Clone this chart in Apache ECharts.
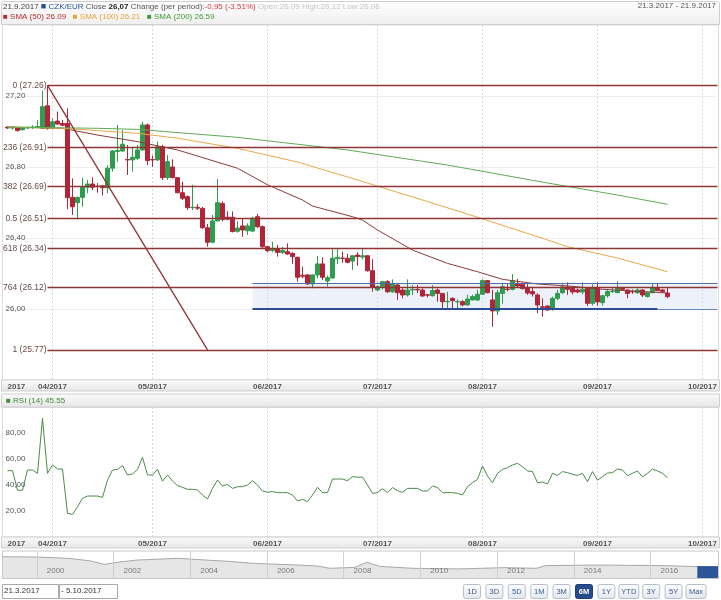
<!DOCTYPE html>
<html><head><meta charset="utf-8">
<script src="https://cdn.jsdelivr.net/npm/echarts@6/dist/echarts.min.js"></script>
<style>html,body{margin:0;padding:0;background:#fff}#c{width:721px;height:600px}</style>
</head><body><div id="c"></div>
<script>
// ---- trading days (categories) ----
const monthDays = [
  [3, [21,22,23,24,27,28,29,30,31]],
  [4, [3,4,5,6,7,10,11,12,13,14,17,18,19,20,21,24,25,26,27,28]],
  [5, [1,2,3,4,5,8,9,10,11,12,15,16,17,18,19,22,23,24,25,26,29,30,31]],
  [6, [1,2,5,6,7,8,9,12,13,14,15,16,19,20,21,22,23,26,27,28,29,30]],
  [7, [3,4,5,6,7,10,11,12,13,14,17,18,19,20,21,24,25,26,27,28,31]],
  [8, [1,2,3,4,7,8,9,10,11,14,15,16,17,18,21,22,23,24,25,28,29,30,31]],
  [9, [1,4,5,6,7,8,11,12,13,14,15,18,19,20,21,22,25,26,27,28,29]],
  [10,[2,3,4,5]]
];
const categories = [];
const monthStartIdx = {};
monthDays.forEach(([m, days]) => {
  monthStartIdx[categories.length] = (m < 10 ? '0' + m : '' + m) + '/2017';
  days.forEach(d => categories.push(d + '.' + m + '.2017'));
});
const firstLabel = '2017';

// ---- OHLC [open, high, low, close] ----
const ohlc = [
[27.025,27.03,27.015,27.02],[27.02,27.03,27.01,27.025],[27.02,27.025,27.0,27.005],[27.01,27.025,27.005,27.02],
[27.02,27.03,27.015,27.022],[27.022,27.035,27.015,27.025],[27.025,27.065,27.02,27.028],[27.018,27.23,27.015,27.14],
[27.145,27.26,27.01,27.018],[27.021,27.074,27.013,27.055],[27.059,27.112,27.037,27.042],[27.045,27.065,27.03,27.035],
[27.046,27.131,26.562,26.627],[26.629,26.736,26.53,26.576],[26.599,26.633,26.505,26.629],[26.629,26.74,26.576,26.684],
[26.686,26.727,26.652,26.704],[26.704,26.742,26.67,26.686],[26.692,26.71,26.655,26.69],[26.694,26.70,26.64,26.683],
[26.683,26.811,26.652,26.793],[26.793,26.896,26.774,26.89],[26.887,27.037,26.83,26.893],[26.89,27.008,26.886,26.928],
[26.842,26.924,26.755,26.84],[26.84,26.914,26.774,26.855],[26.849,26.924,26.84,26.896],[26.896,27.055,26.893,27.037],
[27.037,27.045,26.811,26.836],[26.842,26.865,26.80,26.84],[26.84,26.943,26.834,26.914],[26.914,26.925,26.727,26.74],
[26.74,26.868,26.727,26.83],[26.80,26.843,26.736,26.74],[26.74,26.742,26.652,26.655],[26.655,26.717,26.614,26.624],
[26.633,26.64,26.558,26.571],[26.571,26.70,26.558,26.573],[26.573,26.59,26.558,26.568],[26.567,26.575,26.451,26.458],
[26.458,26.479,26.351,26.376],[26.376,26.53,26.37,26.496],[26.496,26.732,26.493,26.599],[26.595,26.606,26.493,26.505],
[26.517,26.55,26.50,26.506],[26.517,26.55,26.432,26.436],[26.438,26.495,26.43,26.456],[26.468,26.511,26.407,26.445],
[26.441,26.483,26.417,26.468],[26.439,26.52,26.433,26.511],[26.52,26.535,26.455,26.464],[26.464,26.47,26.342,26.351],
[26.351,26.355,26.32,26.328],[26.33,26.379,26.32,26.338],[26.34,26.361,26.295,26.319],[26.319,26.35,26.31,26.33],
[26.323,26.37,26.305,26.31],[26.313,26.32,26.254,26.295],[26.291,26.295,26.154,26.179],[26.19,26.238,26.173,26.185],
[26.192,26.196,26.135,26.141],[26.141,26.196,26.117,26.192],[26.192,26.299,26.173,26.254],[26.254,26.291,26.163,26.179],
[26.158,26.19,26.126,26.176],[26.175,26.342,26.17,26.286],[26.283,26.342,26.254,26.291],[26.287,26.323,26.26,26.285],
[26.286,26.31,26.257,26.263],[26.27,26.304,26.22,26.30],[26.304,26.32,26.244,26.295],[26.293,26.342,26.28,26.30],
[26.30,26.304,26.21,26.216],[26.216,26.28,26.097,26.122],[26.107,26.135,26.10,26.126],[26.126,26.158,26.11,26.154],
[26.154,26.163,26.09,26.097],[26.097,26.167,26.092,26.141],[26.135,26.144,26.051,26.092],[26.107,26.116,26.06,26.079],
[26.079,26.167,26.07,26.107],[26.107,26.135,26.079,26.11],[26.11,26.135,26.09,26.108],[26.107,26.116,26.07,26.073],
[26.08,26.085,26.065,26.078],[26.075,26.135,26.07,26.104],[26.107,26.116,26.041,26.088],[26.088,26.09,25.998,26.041],
[26.041,26.097,26.004,26.043],[26.06,26.065,26.004,26.047],[26.04,26.055,26.004,26.042],[26.041,26.05,26.015,26.023],
[26.023,26.08,26.017,26.056],[26.051,26.08,26.05,26.07],[26.051,26.107,26.045,26.083],[26.083,26.167,26.08,26.16],
[26.16,26.163,26.088,26.092],[26.051,26.107,25.90,25.989],[25.989,26.107,25.966,26.092],[26.088,26.145,26.03,26.126],
[26.112,26.14,26.10,26.11],[26.111,26.197,26.105,26.16],[26.145,26.17,26.12,26.13],[26.14,26.15,26.11,26.115],
[26.12,26.14,26.08,26.09],[26.098,26.125,26.07,26.085],[26.079,26.088,25.976,26.023],[26.012,26.06,25.957,26.01],
[26.017,26.02,25.99,25.994],[26.0,26.07,25.99,26.06],[26.06,26.107,26.05,26.088],[26.092,26.14,26.085,26.124],
[26.124,26.15,26.08,26.111],[26.115,26.126,26.083,26.096],[26.107,26.115,26.09,26.096],[26.096,26.15,26.083,26.111],
[26.115,26.12,26.017,26.032],[26.032,26.139,26.02,26.115],[26.115,26.15,26.02,26.04],[26.036,26.08,26.02,26.075],
[26.075,26.107,26.064,26.098],[26.098,26.118,26.09,26.1],[26.092,26.155,26.09,26.118],[26.118,26.125,26.105,26.111],
[26.107,26.11,26.06,26.088],[26.098,26.11,26.085,26.097],[26.092,26.115,26.085,26.107],[26.107,26.112,26.067,26.079],
[26.07,26.096,26.065,26.092],[26.092,26.145,26.088,26.118],[26.118,26.145,26.1,26.104],[26.107,26.112,26.09,26.098],
[26.09,26.12,26.06,26.07]
];

// ---- moving averages: [category index, value] ----
const sma50 = [[0,27.025],[11,27.018],[18,26.98],[26,26.943],[34,26.896],[46,26.793],[52,26.70],[59,26.614],[61,26.58],
  [69,26.52],[71,26.501],[74,26.445],[81,26.332],[88,26.257],[94,26.21],[99,26.167],[106,26.141],[112,26.13],[119,26.111],[132,26.09]];
const sma100 = [[0,27.025],[11,27.018],[18,27.005],[26,26.99],[34,26.962],[46,26.905],[58,26.828],[70,26.727],[83,26.614],
  [94,26.517],[108,26.389],[112,26.351],[122,26.287],[132,26.21]];
const sma200 = [[0,27.025],[18,27.018],[26,27.012],[46,26.967],[68,26.896],[88,26.811],[108,26.71],[122,26.642],[132,26.59]];

// ---- RSI (14) ----
const rsi = [
51,51,36,36,51.5,51.5,49,91.3,49,55.4,
52.3,52.3,18.2,17.4,23.3,29.7,31.5,31.5,31.5,30.5,
43.8,51.5,52,54.9,47.7,48.5,52,61.3,47.7,47.7,
52,43,47.7,43,39.5,38.2,36.7,36.7,36.2,32.3,
29.2,37.4,43.8,39.2,40.5,37.4,38.7,38.7,40,43.3,
40,35.4,34.4,34.9,34.1,34.1,34.1,32.3,27.7,29,
27.2,32.3,38.2,34.1,34.1,44.6,44.6,44.6,43.3,46.4,
46,46.1,40,33.6,34.1,37.2,34.1,38,35.6,34.4,
37.4,37.4,37.4,35.4,35.4,39.2,38,34.1,34.1,34.1,
33.6,32.3,38.7,41.8,44.4,54.6,46.9,41.8,49,52,
53.3,55.4,56.7,54.1,50.8,50.3,41.8,42.3,40.8,49,
47.4,50.3,49.5,48.2,47.4,49,42.6,50.3,43.8,46.4,
49.2,49.5,52.3,51.5,47.2,49,50.8,46.2,49,52.3,
50.8,49,45.55
];

// ---- Fibonacci retracement & drawings ----
const fibNames = ['0','236','382','0.5','618','764','1'];
const fibValues = [27.26,26.91,26.69,26.51,26.34,26.12,25.77];
const fibStartIdx = 8, lastIdx = categories.length - 1;
const trendLine = [[8,27.26],[40,25.77]];
const channel = {startIdx:49, top:26.145, bottom:26.00, boldEndIdx:130};

// ---- navigator (long history) [decimal year, value] ----
const navData = [[1999.12,36.5],[2000.0,36.2],[2000.83,34.8],[2001.4,32],[2001.76,28.3],[2002.2,31],[2002.62,32.9],
  [2003.7,34.8],[2004.4,32.9],[2005.0,31.5],[2005.62,29.4],[2006.81,27.5],[2007.3,26.5],[2007.64,24],[2008.3,25],
  [2008.6,30.5],[2008.96,26],[2009.79,24],[2010.98,23.3],[2011.6,24],[2012.18,24.7],[2013.03,24],[2013.26,26.9],
  [2014.59,27.5],[2015.5,27.2],[2016.37,26.9],[2017.22,25.8]];
const navSel = [[2017.22,25.8],[2017.5,25.7],[2017.76,25.7]];
const navYears = [2000,2002,2004,2006,2008,2010,2012,2014,2016];

const buttons = ['1D','3D','5D','1M','3M','6M','1Y','YTD','3Y','5Y','Max'];
const activeButton = '6M';
const rangeFrom = '21.3.2017', rangeTo = '5.10.2017';

// ---- build ----
const FONT = 'Liberation Sans, Arial, sans-serif';
const candleData = ohlc.map(r => [r[0], r[3], r[2], r[1]]);
const fmtComma = v => v.toFixed(2).replace('.', ',');

const xLabelInterval = (i) => i === 0 || monthStartIdx[i] !== undefined;
const xLabelFmt = (v, i) => i === 0 ? firstLabel : (monthStartIdx[i] || '');
const splitInterval = (i) => i !== 0 && monthStartIdx[i] !== undefined;

function catAxis(gi) {
  return {
    type:'category', gridIndex:gi, data:categories, boundaryGap:false,
    axisLine:{show:false}, axisTick:{show:false},
    axisLabel:{interval:xLabelInterval, formatter:xLabelFmt, fontSize:8, fontWeight:'bold',
      color:'#555', fontFamily:FONT, margin:3, alignMinLabel:'left', showMinLabel:true},
    splitLine:{show:true, interval:splitInterval, lineStyle:{color:'#d9d9d9', type:[2,2], width:1}}
  };
}

const fibLines = fibNames.map((n, k) => [
  {coord:[fibStartIdx, fibValues[k]], name:n + ' (' + fibValues[k].toFixed(2) + ')'},
  {coord:[lastIdx, fibValues[k]]}
]);
const drawLines = [
  [{coord:trendLine[0], label:{show:false}}, {coord:trendLine[1]}],
  [{coord:[channel.startIdx, channel.top], label:{show:false}, lineStyle:{color:'#4f6fa8', width:1.2}}, {coord:[lastIdx, channel.top]}],
  [{coord:[channel.startIdx, channel.bottom], label:{show:false}, lineStyle:{color:'#2b4d96', width:2.2}}, {coord:[channel.boldEndIdx, channel.bottom]}],
  [{coord:[channel.boldEndIdx, channel.bottom], label:{show:false}, lineStyle:{color:'#6b86bd', width:1.2}}, {coord:[lastIdx, channel.bottom]}]
];

function band(y, h) {
  return {type:'rect', z:-5, shape:{x:1.5, y:y, width:718, height:h},
    style:{fill:new echarts.graphic.LinearGradient(0,0,0,1,[{offset:0,color:'#fbfbfb'},{offset:1,color:'#e6e6e6'}]), stroke:'#cfcfcf', lineWidth:1}};
}

const graphics = [
  {type:'rect', z:-5, shape:{x:1.5, y:1.5, width:718, height:23, r:[3,3,0,0]},
    style:{fill:new echarts.graphic.LinearGradient(0,0,0,1,[{offset:0,color:'#ffffff'},{offset:1,color:'#efefef'}]), stroke:'#cfcfcf', lineWidth:1}},
  {type:'text', x:3, y:2, style:{font:'8px ' + FONT, fill:'#444',
    text:'{d|21.9.2017} {sq|■} {b|CZK/EUR} {g|Close }{k|26,07} {g|Change (per period):}{r|-0,95 (-3.51%)} {l|Open:26,09 High:26,12 Low:26,06}',
    rich:{d:{fill:'#444', font:'8px ' + FONT}, sq:{fill:'#1f4e9b', font:'9px ' + FONT}, b:{fill:'#1f4e9b', font:'8px ' + FONT},
      g:{fill:'#555', font:'8px ' + FONT}, k:{fill:'#222', font:'bold 8px ' + FONT}, r:{fill:'#d9343a', font:'8px ' + FONT},
      l:{fill:'#c6c6c6', font:'8px ' + FONT}}}},
  {type:'text', x:716, y:2, style:{text:'21.3.2017 - 21.9.2017', font:'8px ' + FONT, fill:'#555', align:'right'}},
  {type:'text', x:3, y:13, style:{font:'8px ' + FONT,
    text:'{a|■ SMA (50) 26.09}   {b|■ SMA (100) 26.21}   {c|■ SMA (200) 26.59}',
    rich:{a:{fill:'#b8282f', font:'8px ' + FONT}, b:{fill:'#e8a23a', font:'8px ' + FONT}, c:{fill:'#3a9a3a', font:'8px ' + FONT}}}},
  {type:'rect', z:-6, shape:{x:2.5, y:24.5, width:716, height:355.5}, style:{fill:'#fff', stroke:'#dcdcdc', lineWidth:1}},
  band(380, 11),
  band(394, 13),
  {type:'text', x:6, y:397, style:{text:'■ RSI (14) 45.55', font:'8px ' + FONT, fill:'#3c8a3c'}},
  {type:'rect', z:-6, shape:{x:2.5, y:407.5, width:716, height:129.5}, style:{fill:'#fff', stroke:'#dcdcdc', lineWidth:1}},
  band(537, 11),
  {type:'rect', z:-6, shape:{x:2.5, y:551, width:716, height:27.5}, style:{fill:'#fff', stroke:'#c8c8c8', lineWidth:1}},
  {type:'rect', shape:{x:2.5, y:584.5, width:56, height:14}, style:{fill:'#fff', stroke:'#a9a9a9', lineWidth:1}},
  {type:'text', x:4, y:587, style:{text:rangeFrom, font:'8px ' + FONT, fill:'#333'}},
  {type:'rect', shape:{x:59.5, y:584.5, width:58, height:14}, style:{fill:'#fff', stroke:'#a9a9a9', lineWidth:1}},
  {type:'text', x:61, y:587, style:{text:'- ' + rangeTo, font:'8px ' + FONT, fill:'#333'}}
];
buttons.forEach((b, k) => {
  const cx = 472 + k * 22.4, w = (b === 'YTD' || b === 'Max') ? 20 : 17;
  const act = b === activeButton;
  graphics.push({type:'rect', shape:{x:cx - w / 2, y:584.5, width:w, height:14, r:2},
    style:{fill: act ? '#254b8c' : new echarts.graphic.LinearGradient(0,0,0,1,[{offset:0,color:'#ffffff'},{offset:1,color:'#e2e6ee'}]),
      stroke: act ? '#1d3d73' : '#b7bfcc', lineWidth:1}});
  graphics.push({type:'text', x:cx, y:591.5, style:{text:b, font:(act ? 'bold ' : '') + '7.5px ' + FONT,
    fill: act ? '#fff' : '#3d5a8a', align:'center', verticalAlign:'middle'}});
});

const chart = echarts.init(document.getElementById('c'));
chart.setOption({
  animation:false,
  backgroundColor:'#fff',
  graphic:graphics,
  grid:[
    {left:7.5, right:3.5, top:25, height:355},
    {left:7.5, right:3.5, top:407, height:130},
    {left:3, right:3, top:551, height:27}
  ],
  xAxis:[
    catAxis(0), catAxis(1),
    {type:'value', gridIndex:2, min:1999.12, max:2017.76, z:10, axisLine:{show:false}, axisTick:{show:false}, splitLine:{show:false},
      axisLabel:{inside:true, customValues:navYears, formatter:v => String(Math.round(v)), fontSize:8, color:'#7a7a7a',
        fontFamily:FONT, align:'left', padding:[0,0,0,10], margin:3}}
  ],
  yAxis:[
    {type:'value', gridIndex:0, min:25.6, max:27.6, interval:0.4, axisLine:{show:false}, axisTick:{show:false},
      axisLabel:{inside:true, showMinLabel:false, showMaxLabel:false, formatter:fmtComma, fontSize:8, color:'#555', fontFamily:FONT, margin:-2},
      splitLine:{lineStyle:{color:'#eeeeee'}}},
    {type:'value', gridIndex:1, min:0, max:100, interval:20, axisLine:{show:false}, axisTick:{show:false},
      axisLabel:{inside:true, showMinLabel:false, showMaxLabel:false, formatter:fmtComma, fontSize:8, color:'#555', fontFamily:FONT, margin:-2},
      splitLine:{show:false}},
    {type:'value', gridIndex:2, min:13.5, max:42.7, show:false}
  ],
  series:[
    {type:'candlestick', name:'CZK/EUR', xAxisIndex:0, yAxisIndex:0, data:candleData, barWidth:4,
      itemStyle:{color:'#2f9c4f', color0:'#b3243b', borderColor:'#2f9c4f', borderColor0:'#b3243b', borderWidth:1},
      markArea:{silent:true, itemStyle:{color:'rgba(214,225,242,0.45)'},
        data:[[{coord:[channel.startIdx, channel.top]}, {coord:[lastIdx, channel.bottom]}]]},
      markLine:{silent:true, symbol:'none',
        lineStyle:{color:'#8e3535', width:1.3, type:'solid'},
        label:{show:true, position:'start', formatter:'{b}', fontSize:8.5, color:'#6a4a4a', fontFamily:FONT, distance:1},
        data:fibLines.concat(drawLines)}},
    {type:'line', name:'SMA (50)', xAxisIndex:0, yAxisIndex:0, data:sma50, showSymbol:false, lineStyle:{color:'#8f3a3a', width:1}},
    {type:'line', name:'SMA (100)', xAxisIndex:0, yAxisIndex:0, data:sma100, showSymbol:false, lineStyle:{color:'#e8a84a', width:1}},
    {type:'line', name:'SMA (200)', xAxisIndex:0, yAxisIndex:0, data:sma200, showSymbol:false, lineStyle:{color:'#5faa55', width:1}},
    {type:'line', name:'RSI (14)', xAxisIndex:1, yAxisIndex:1, data:rsi, showSymbol:false, lineStyle:{color:'#4a8a4a', width:1}},
    {type:'line', name:'nav', xAxisIndex:2, yAxisIndex:2, data:navData, showSymbol:false, z:1,
      lineStyle:{color:'#a8a8a8', width:1}, areaStyle:{color:'#e6e6e6', origin:'start', opacity:1},
      markLine:{silent:true, symbol:'none', label:{show:false}, lineStyle:{color:'#d0d0d0', type:'solid', width:1},
        data:navYears.map(y => ({xAxis:y}))}},
    {type:'line', name:'sel', xAxisIndex:2, yAxisIndex:2, data:navSel, showSymbol:false, z:1,
      lineStyle:{color:'#254b8c', width:1}, areaStyle:{color:'#2c5597', origin:'start', opacity:1}}
  ]
});
</script></body></html>
